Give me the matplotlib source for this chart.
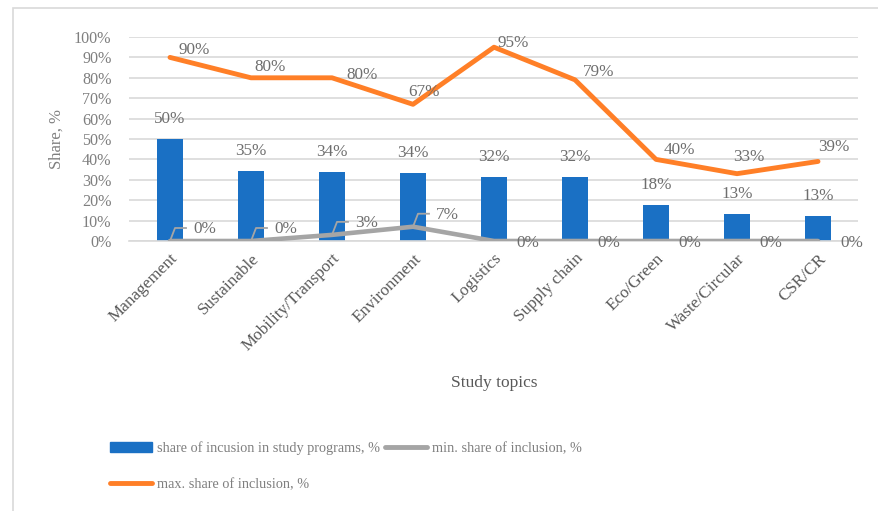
"""Study topics: share of inclusion in study programs (bar + min/max lines)."""

import matplotlib.pyplot as plt
import numpy as np
from matplotlib.lines import Line2D
from matplotlib.patches import Patch, Rectangle

topics = ["Management", "Sustainable", "Mobility/Transport", "Environment",
          "Logistics", "Supply chain", "Eco/Green", "Waste/Circular", "CSR/CR"]
share_programs = [50, 35, 34, 34, 32, 32, 18, 13, 13]
min_share = [0, 0, 3, 7, 0, 0, 0, 0, 0]
max_share = [90, 80, 80, 67, 95, 79, 40, 33, 39]
# bar tops (labels above are the rounded values)
bar_heights = [50, 34.5, 33.7, 33.2, 31.4, 31.4, 17.6, 13.1, 12.3]

# label offsets in pixels for the max line, as placed in the source
max_offsets = [(24, 7), (19, 11), (30, 3), (11, 12), (19, 4),
               (24, 8), (23, 9), (12, 17), (16, 14)]

BLUE = "#1a70c4"
ORANGE = "#ff7f27"
GRAY = "#a5a5a5"
TEXT = "#7f7f7f"
LABEL = "#6e6e6e"
GRID = "#d9d9d9"

plt.rcParams["font.family"] = ["Liberation Serif", "DejaVu Serif"]

W, H = 879, 511
fig = plt.figure(figsize=(W / 100, H / 100), dpi=100)

# chart frame (cut off on the right and bottom in the source)
fig.patches.append(Rectangle((13 / W, -0.05), 1.2, 1 - 8 / H + 0.05,
                             transform=fig.transFigure, fill=False,
                             edgecolor=GRID, linewidth=1.2))

ax = fig.add_axes([129.5 / W, 1 - 241 / H, 729 / W, 204 / H])
x = np.arange(len(topics))

ax.bar(x, np.array(bar_heights) / 100, width=0.32, color=BLUE, zorder=2)
ax.plot(x, np.array(min_share) / 100, color=GRAY, lw=3.3,
        solid_capstyle="round", zorder=3)
ax.plot(x, np.array(max_share) / 100, color=ORANGE, lw=3.5,
        solid_capstyle="round", zorder=3)

ax.set_xlim(-0.5, len(topics) - 0.5)
ax.set_ylim(0, 1)
ax.set_yticks(np.arange(0, 1.01, 0.1))
ax.set_yticklabels([f"{int(v)}%" for v in np.arange(0, 101, 10)],
                   fontsize=11.6, color=TEXT)
ax.yaxis.grid(True, color=GRID, lw=1.2)
ax.set_axisbelow(True)
for s in ["top", "right", "left"]:
    ax.spines[s].set_visible(False)
ax.spines["bottom"].set_color(GRID)
ax.spines["bottom"].set_linewidth(1.2)
ax.tick_params(axis="y", length=0, pad=13)
ax.tick_params(axis="x", length=0, pad=7)
ax.set_xticks(x)
ax.set_xticklabels(topics, rotation=45, ha="right", va="top",
                   rotation_mode="anchor", fontsize=12.3, color="#595959")
ax.set_ylabel("Share, %", fontsize=12, color=TEXT)
ax.set_xlabel("Study topics", fontsize=12.5, color="#595959")
ax.xaxis.set_label_coords(0.5, -(375 - 241) / 204)
ax.yaxis.set_label_coords(-(129.5 - 65) / 729, 0.5)

lab = dict(fontsize=12.3, color=LABEL, ha="center", va="center",
           textcoords="offset pixels")

# bar labels
for i, v in enumerate(share_programs):
    ax.annotate(f"{v}%", (i, bar_heights[i] / 100), xytext=(0, 20), **lab)

# max labels
for i, v in enumerate(max_share):
    ax.annotate(f"{v}%", (i, v / 100), xytext=max_offsets[i], **lab)

# min labels: first four with leader lines, rest to the right of the point
dx1, dx2, dy = 5 / 81, 16 / 81, 13 / 204
for i, v in enumerate(min_share):
    y = v / 100
    if i < 4:
        ax.plot([i, i + dx1, i + dx2], [y, y + dy, y + dy],
                color=GRAY, lw=1.3, zorder=3)
        ax.annotate(f"{v}%", (i + dx2, y + dy), xytext=(7, -1),
                    textcoords="offset pixels", fontsize=12.3,
                    color=LABEL, ha="left", va="center")
    else:
        ax.annotate(f"{v}%", (i, y), xytext=(34, -2), **lab)

handles = [Patch(color=BLUE),
           Line2D([], [], color=ORANGE, lw=3.5, solid_capstyle="round"),
           Line2D([], [], color=GRAY, lw=3.5, solid_capstyle="round")]
labels = ["share of incusion in study programs, %",
          "max. share of inclusion, %",
          "min. share of inclusion, %"]
fig.legend(handles, labels, ncol=2, loc="upper left",
           bbox_to_anchor=(103 / W, 1 - 434 / H), frameon=False,
           fontsize=10.3, labelcolor=TEXT, handlelength=2.95,
           handleheight=0.7, handletextpad=0.35, columnspacing=0.3,
           labelspacing=1.6, borderpad=0)

fig.savefig("out.png", dpi=100)
